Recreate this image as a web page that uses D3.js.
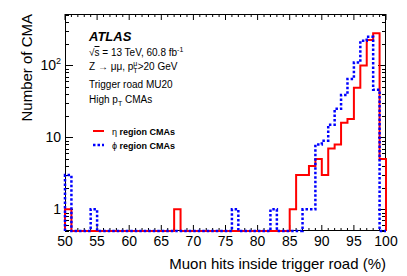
<!DOCTYPE html>
<html>
<head>
<meta charset="utf-8">
<script src="https://cdn.jsdelivr.net/npm/d3@7"></script>
<style>
  body { margin: 0; background: #fff; }
  svg { display: block; font-family: "Liberation Sans", Arial, sans-serif; }
</style>
</head>
<body>
<div id="chart"></div>
<script>
// bin lower edges (1% wide bins)
var binLow = [50, 51, 52, 53, 54, 55, 56, 57, 58, 59,
              60, 61, 62, 63, 64, 65, 66, 67, 68, 69,
              70, 71, 72, 73, 74, 75, 76, 77, 78, 79,
              80, 81, 82, 83, 84, 85, 86, 87, 88, 89,
              90, 91, 92, 93, 94, 95, 96, 97, 98, 99];

// eta region CMAs
var etaCounts = [1, 0, 0, 0, 0, 0, 0, 0, 0, 0,
                 0, 0, 0, 0, 0, 0, 0, 1, 0, 0,
                 0, 0, 0, 0, 0, 0, 0, 0, 0, 0,
                 0, 0, 0, 0, 0, 1, 3, 3, 4, 5,
                 3, 7, 8, 16, 18, 49, 100, 226, 280, 5];

// phi region CMAs
var phiCounts = [3, 0, 0, 0, 1, 0, 0, 0, 0, 0,
                 0, 0, 0, 0, 0, 0, 0, 0, 0, 0,
                 0, 0, 0, 0, 0, 0, 1, 0, 0, 0,
                 0, 0, 1, 0, 0, 0, 0, 1, 1, 8,
                 9, 15, 25, 39, 65, 110, 221, 251, 46, 0];

var xTicks = [50, 55, 60, 65, 70, 75, 80, 85, 90, 95, 100];
var yTicks = [1, 10, 100];

var svgWidth = 407, svgHeight = 276;
var margin = {top: 14, right: 21, bottom: 45, left: 65};
var width = svgWidth - margin.left - margin.right;
var height = svgHeight - margin.top - margin.bottom;

var svg = d3.select("#chart").append("svg")
  .attr("width", svgWidth)
  .attr("height", svgHeight);

var chartGroup = svg.append("g")
  .attr("transform", `translate(${margin.left}, ${margin.top})`);

var yMin = 0.5;
var x = d3.scaleLinear().domain([50, 100]).range([0, width]);
var y = d3.scaleLog().domain([yMin, 520]).range([height, 0]);

// minor ticks
var xMinor = d3.range(50, 101, 1);
var yMinor = [];
[0.1, 1, 10, 100].forEach(function(dec) {
  for (var k = 2; k <= 9; k++) {
    var v = dec * k;
    if (v >= yMin && v <= 520) yMinor.push(v);
  }
});

var tickColor = "#000";
// x ticks bottom & top (inward)
chartGroup.append("g").selectAll("line")
  .data(xMinor).enter().append("line")
  .attr("x1", d => x(d)).attr("x2", d => x(d))
  .attr("y1", height).attr("y2", d => height - (d % 5 === 0 ? 6 : 3))
  .attr("stroke", tickColor).attr("stroke-width", 1);
chartGroup.append("g").selectAll("line")
  .data(xMinor).enter().append("line")
  .attr("x1", d => x(d)).attr("x2", d => x(d))
  .attr("y1", 0).attr("y2", d => (d % 5 === 0 ? 6 : 3))
  .attr("stroke", tickColor).attr("stroke-width", 1);

// y ticks left & right (inward)
var yAll = yMinor.map(v => ({v: v, major: false})).concat(yTicks.map(v => ({v: v, major: true})));
chartGroup.append("g").selectAll("line")
  .data(yAll).enter().append("line")
  .attr("x1", 0).attr("x2", d => d.major ? 8 : 4)
  .attr("y1", d => Math.round(y(d.v)) + 0.5).attr("y2", d => Math.round(y(d.v)) + 0.5)
  .attr("stroke", tickColor).attr("stroke-width", 1);
chartGroup.append("g").selectAll("line")
  .data(yAll).enter().append("line")
  .attr("x1", width).attr("x2", d => width - (d.major ? 8 : 4))
  .attr("y1", d => Math.round(y(d.v)) + 0.5).attr("y2", d => Math.round(y(d.v)) + 0.5)
  .attr("stroke", tickColor).attr("stroke-width", 1);

// frame
chartGroup.append("rect")
  .attr("x", 0.5).attr("y", 0.5)
  .attr("width", width - 1).attr("height", height - 1)
  .attr("fill", "none").attr("stroke", "#000").attr("stroke-width", 1);

// tick labels
chartGroup.append("g").selectAll("text")
  .data(xTicks).enter().append("text")
  .attr("x", d => x(d)).attr("y", height + 15)
  .attr("text-anchor", "middle")
  .style("font-size", "14px")
  .text(d => d);

var yLab = chartGroup.append("g").selectAll("text")
  .data(yTicks).enter().append("text")
  .attr("x", -4).attr("y", d => y(d) + 5)
  .attr("text-anchor", "end")
  .style("font-size", "14px");
yLab.append("tspan").text(d => d === 100 ? "10" : d);
yLab.filter(d => d === 100).append("tspan")
  .attr("dy", -6).style("font-size", "9px").text("2");

// axis titles
svg.append("text")
  .attr("transform", "rotate(-90)")
  .attr("x", -14).attr("y", 32)
  .attr("text-anchor", "end")
  .style("font-size", "15px")
  .text("Number of CMA");

svg.append("text")
  .attr("x", 386).attr("y", 269)
  .attr("text-anchor", "end")
  .style("font-size", "15px")
  .text("Muon hits inside trigger road (%)");

// histograms
function histPoints(counts) {
  var pts = [[binLow[0], yMin]];
  counts.forEach(function(c, i) { pts.push([binLow[i], Math.max(c, yMin)]); });
  pts.push([100, Math.max(counts[counts.length - 1], yMin)]);
  pts.push([100, yMin]);
  return pts;
}
var line = d3.line()
  .x(d => x(d[0]))
  .y(d => y(d[1]))
  .curve(d3.curveStepAfter);

chartGroup.append("path")
  .attr("d", line(histPoints(etaCounts)))
  .attr("fill", "none")
  .attr("stroke", "#ff0000")
  .attr("stroke-width", 2);

chartGroup.append("path")
  .attr("d", line(histPoints(phiCounts)))
  .attr("fill", "none")
  .attr("stroke", "#0000ff")
  .attr("stroke-width", 2.5)
  .attr("stroke-dasharray", "2.5,2");

// ATLAS label block
svg.append("text")
  .attr("x", 89).attr("y", 41)
  .style("font-size", "13px").style("font-weight", "bold").style("font-style", "italic")
  .text("ATLAS");

var fs = "10px", fsSmall = "7px";
var t1 = svg.append("text").attr("x", 89).attr("y", 56).style("font-size", fs);
t1.append("tspan").text("\u221A");
t1.append("tspan").style("text-decoration", "overline").text("s");
t1.append("tspan").text(" = 13 TeV, 60.8 fb");
t1.append("tspan").attr("dy", -4).style("font-size", fsSmall).text("-1");

var t2 = svg.append("text").attr("x", 89).attr("y", 70).style("font-size", fs);
t2.append("tspan").text("Z \u2192 \u03BC\u03BC, p");
t2.append("tspan").attr("dy", -4).style("font-size", fsSmall).text("\u03BC");
t2.append("tspan").attr("dx", -4).attr("dy", 7).style("font-size", fsSmall).text("T");
t2.append("tspan").attr("dy", -3).text(">20 GeV");

svg.append("text").attr("x", 89).attr("y", 88).style("font-size", fs)
  .text("Trigger road MU20");

var t4 = svg.append("text").attr("x", 89).attr("y", 103).style("font-size", fs);
t4.append("tspan").text("High p");
t4.append("tspan").attr("dy", 3).style("font-size", fsSmall).text("T");
t4.append("tspan").attr("dy", -3).text(" CMAs");

// legend
var legend = [
  {name: "\u03B7", color: "#ff0000", dash: null, w: 2, y: 131},
  {name: "\u03D5", color: "#0000ff", dash: "2.5,2", w: 2.5, y: 145}
];
legend.forEach(function(l) {
  svg.append("line")
    .attr("x1", 93).attr("x2", 104)
    .attr("y1", l.y).attr("y2", l.y)
    .attr("stroke", l.color).attr("stroke-width", l.w)
    .attr("stroke-dasharray", l.dash);
  var t = svg.append("text").attr("x", 112).attr("y", l.y + 3.5)
    .style("font-size", "9px").style("font-weight", "bold");
  t.append("tspan").style("font-weight", "normal").text(l.name);
  t.append("tspan").text(" region CMAs");
});
</script>
</body>
</html>
